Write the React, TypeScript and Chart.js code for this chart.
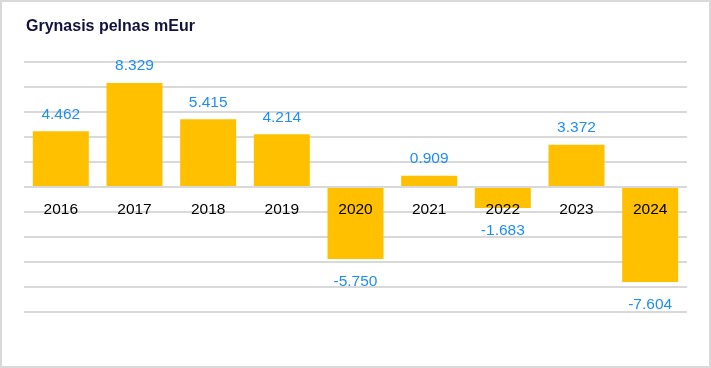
import React, { useEffect, useRef } from "react";
import { Chart, registerables } from "chart.js";

Chart.register(...registerables);

const categories = ["2016", "2017", "2018", "2019", "2020", "2021", "2022", "2023", "2024"];
const values = [4.462, 8.329, 5.415, 4.214, -5.75, 0.909, -1.683, 3.372, -7.604];
const valueLabels = ["4.462", "8.329", "5.415", "4.214", "-5.750", "0.909", "-1.683", "3.372", "-7.604"];
const titleText = "Grynasis pelnas mEur";
const yMin = -10;
const yMax = 10;
const yStep = 2;

const FONT = '"Liberation Sans", Arial, sans-serif';

export default function App() {
  const ref = useRef<HTMLCanvasElement | null>(null);
  useEffect(() => {
    document.body.style.margin = "0";
    const canvas = ref.current;
    if (!canvas) return;
    const labelPlugin = {
      id: "labelsPlugin",
      afterDatasetsDraw(chart: any) {
        const ctx = chart.ctx;
        const x = chart.scales.x;
        const y = chart.scales.y;
        const zero = y.getPixelForValue(0);
        ctx.save();
        ctx.textAlign = "center";
        ctx.textBaseline = "middle";
        ctx.font = `15.5px ${FONT}`;
        categories.forEach((c, i) => {
          const px = x.getPixelForValue(i);
          ctx.fillStyle = "#000000";
          ctx.fillText(c, px, zero + 22.5);
          const v = values[i];
          const py = y.getPixelForValue(v);
          ctx.fillStyle = "#1e8ff0";
          ctx.fillText(valueLabels[i], px, v >= 0 ? py - 17 : py + 22.5);
        });
        ctx.restore();
      },
      afterDraw(chart: any) {
        const ctx = chart.ctx;
        ctx.save();
        ctx.font = `bold 16px ${FONT}`;
        ctx.fillStyle = "#12123f";
        ctx.textAlign = "left";
        ctx.textBaseline = "alphabetic";
        ctx.fillText(titleText, 26, 31);
        ctx.strokeStyle = "#d9d9d9";
        ctx.lineWidth = 2;
        ctx.strokeRect(1, 1, chart.width - 2, chart.height - 2);
        ctx.restore();
      },
    };
    const chart = new Chart(canvas, {
      type: "bar",
      data: {
        labels: categories,
        datasets: [
          {
            data: values,
            backgroundColor: "#FFC000",
            borderWidth: 0,
            categoryPercentage: 0.76,
            barPercentage: 1,
          },
        ],
      },
      options: {
        animation: false,
        responsive: false,
        maintainAspectRatio: false,
        layout: { padding: { left: 24, right: 24, top: 62, bottom: 56 } },
        plugins: { legend: { display: false }, tooltip: { enabled: false }, title: { display: false } },
        scales: {
          x: { display: false },
          y: {
            min: yMin,
            max: yMax,
            ticks: { display: false, stepSize: yStep },
            border: { display: false },
            grid: { color: "#d9d9d9", lineWidth: 2, drawTicks: false },
          },
        },
      },
      plugins: [labelPlugin],
    });
    return () => chart.destroy();
  }, []);
  return (
    <div style={{ width: 711, height: 368, position: "relative" }}>
      <canvas ref={ref} width={711} height={368} style={{ display: "block", width: 711, height: 368 }} />
    </div>
  );
}
